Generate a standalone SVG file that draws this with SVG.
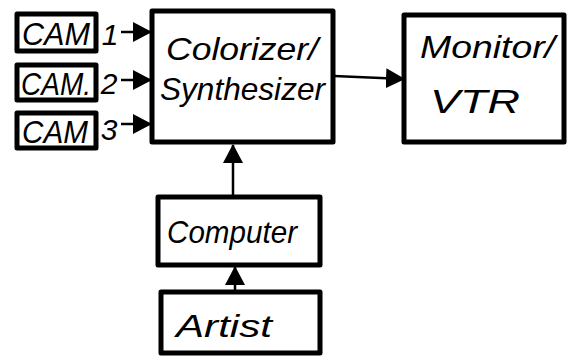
<svg xmlns="http://www.w3.org/2000/svg" width="580" height="356" viewBox="0 0 580 356">
<defs>
<marker id="ah" markerUnits="userSpaceOnUse" markerWidth="20" markerHeight="22" viewBox="0 0 20 22" refX="18" refY="11" orient="auto">
<path d="M0,1 L19,11 L0,21 Z" fill="#000"/>
</marker>
</defs>
<style>
.box{fill:#fff;stroke:#000;stroke-width:5;stroke-linejoin:round}
.t{font-family:"Liberation Sans",Arial,sans-serif;font-style:italic;fill:#000}
.c{stroke:#000;stroke-width:2.5;fill:none;marker-end:url(#ah)}
</style>
<rect width="580" height="356" fill="#fff"/>
<g id="connectors">
<line class="c" x1="121" y1="32" x2="151" y2="32"/>
<line class="c" x1="121" y1="80" x2="151" y2="80"/>
<line class="c" x1="121" y1="124" x2="151" y2="124"/>
<line class="c" x1="334" y1="76" x2="404" y2="79"/>
<line class="c" x1="233" y1="196" x2="233" y2="145"/>
<line class="c" x1="235" y1="291" x2="235" y2="267"/>
</g>
<g id="cam1">
<rect class="box" x="17" y="14" width="79" height="37"/>
<text class="t" x="22" y="45" font-size="32" textLength="68" lengthAdjust="spacingAndGlyphs">CAM</text>
</g>
<g id="cam2">
<rect class="box" x="17" y="65" width="79" height="35"/>
<text class="t" x="21" y="95" font-size="32" textLength="70" lengthAdjust="spacingAndGlyphs">CAM.</text>
</g>
<g id="cam3">
<rect class="box" x="17" y="113" width="79" height="35"/>
<text class="t" x="22" y="143" font-size="32" textLength="66" lengthAdjust="spacingAndGlyphs">CAM</text>
</g>
<g id="labels">
<text class="t" x="110" y="45" font-size="30" text-anchor="middle">1</text>
<text class="t" x="109" y="94" font-size="30" text-anchor="middle">2</text>
<text class="t" x="109" y="140" font-size="30" text-anchor="middle">3</text>
</g>
<g id="colorizer">
<rect class="box" x="152" y="11" width="181" height="131"/>
<text class="t" x="166" y="60" font-size="32" textLength="152" lengthAdjust="spacingAndGlyphs">Colorizer/</text>
<text class="t" x="160" y="100" font-size="32" textLength="165" lengthAdjust="spacingAndGlyphs">Synthesizer</text>
</g>
<g id="monitor">
<rect class="box" x="404" y="15" width="160" height="127"/>
<text class="t" x="420" y="58" font-size="32" textLength="135" lengthAdjust="spacingAndGlyphs">Monitor/</text>
<text class="t" x="430" y="113" font-size="34" textLength="90" lengthAdjust="spacingAndGlyphs">VTR</text>
</g>
<g id="computer">
<rect class="box" x="158" y="197" width="162" height="68"/>
<text class="t" x="167" y="243" font-size="32" textLength="130" lengthAdjust="spacingAndGlyphs">Computer</text>
</g>
<g id="artist">
<rect class="box" x="161" y="292" width="159" height="61"/>
<text class="t" x="176" y="337" font-size="32" textLength="96" lengthAdjust="spacingAndGlyphs">Artist</text>
</g>
</svg>
